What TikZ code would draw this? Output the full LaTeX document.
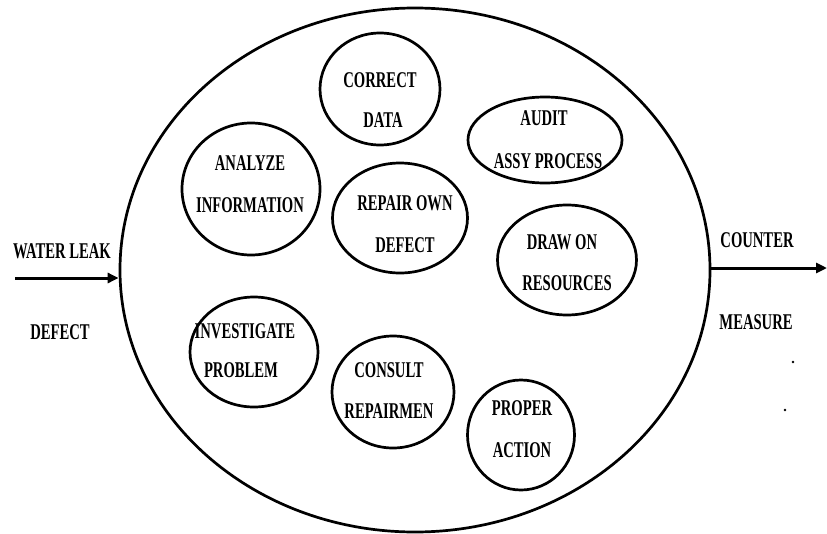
\documentclass[tikz,border=0pt]{standalone}
\usepackage{fontspec}
\usepackage{graphicx}
\setmainfont{Liberation Serif}
\usetikzlibrary{arrows.meta,shapes.geometric}
\newcommand\cx[1]{\scalebox{0.65}[1]{#1}}
\tikzset{
  bub/.style={draw,ellipse,line width=2.7pt,inner sep=0pt},
  lbl/.style={inner sep=0pt,font=\fontsize{22.5}{22.5}\selectfont\bfseries},
  arr/.style={line width=3pt,-{Triangle[length=11pt,width=10pt]}},
}
\begin{document}
\begin{tikzpicture}[x=1pt,y=-1pt]
\useasboundingbox[fill=white] (0,0) rectangle (827,533);
% outer ellipse
\node[bub,minimum width=590pt,minimum height=524pt] (big) at (415,270) {};
% bubbles
\node[bub,minimum width=120pt,minimum height=112pt] (cd) at (380,89) {};
\node[bub,minimum width=154pt,minimum height=86pt] (au) at (545,140) {};
\node[bub,minimum width=138pt,minimum height=132pt] (an) at (251,189) {};
\node[bub,minimum width=135pt,minimum height=110pt] (ro) at (400,218) {};
\node[bub,minimum width=139pt,minimum height=110pt] (dr) at (567,260) {};
\node[bub,minimum width=128pt,minimum height=110pt] (iv) at (254,352) {};
\node[bub,minimum width=122pt,minimum height=112pt] (cs) at (393,392) {};
\node[bub,minimum width=107pt,minimum height=110pt] (pa) at (521,435) {};
% bubble texts
\node[lbl] (cd1) at (380,80) {\cx{CORRECT}};
\node[lbl] (cd2) at (383,120) {\cx{DATA}};
\node[lbl] (au1) at (544,118) {\cx{AUDIT}};
\node[lbl] (au2) at (548,161) {\cx{ASSY PROCESS}};
\node[lbl] (an1) at (250,163) {\cx{ANALYZE}};
\node[lbl] (an2) at (250,205) {\cx{INFORMATION}};
\node[lbl] (ro1) at (405,203) {\cx{REPAIR OWN}};
\node[lbl] (ro2) at (405,245) {\cx{DEFECT}};
\node[lbl] (dr1) at (562,242) {\cx{DRAW ON}};
\node[lbl] (dr2) at (567,283) {\cx{RESOURCES}};
\node[lbl] (iv1) at (245,331) {\cx{INVESTIGATE}};
\node[lbl] (iv2) at (241,370) {\cx{PROBLEM}};
\node[lbl] (cs1) at (389,370) {\cx{CONSULT}};
\node[lbl] (cs2) at (389,411) {\cx{REPAIRMEN}};
\node[lbl] (pa1) at (522,408) {\cx{PROPER}};
\node[lbl] (pa2) at (522,450) {\cx{ACTION}};
% outside labels
\node[lbl] (wl) at (62,251) {\cx{WATER LEAK}};
\node[lbl] (df) at (60,332) {\cx{DEFECT}};
\node[lbl] (ct) at (757,240) {\cx{COUNTER}};
\node[lbl] (ms) at (756,322) {\cx{MEASURE}};
% arrows
\coordinate (inL) at (15,278);
\coordinate (outR) at (827,268);
\draw[arr] (inL) -- (inL -| big.west);
\draw[arr] (outR -| big.east) -- (outR);
% specks
\fill (793,362) circle (1.3pt);
\fill (785,410) circle (1.3pt);
\end{tikzpicture}
\end{document}
